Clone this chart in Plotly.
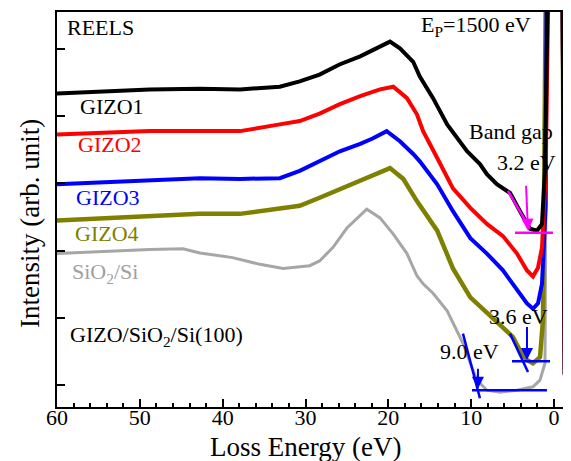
import plotly.graph_objects as go

# ---------------- data ----------------
# Loss energy (eV) and intensity (arb. unit, offset stacked)
gizo1_E = [60.0, 54.8, 48.8, 42.75, 37.9, 33.1, 30.7, 28.3, 25.9, 23.4, 21.4, 19.8, 18.6, 17.0,
           16.2, 14.6, 12.9, 11.35, 10.5, 8.94, 8.1, 6.9, 5.3, 4.1, 2.9, 2.05, 1.45, 1.1, 0.8,
           0.0, -0.9, -1.1, -1.3, -1.6]
gizo1_I = [4.66, 4.69, 4.72, 4.73, 4.72, 4.76, 4.84, 4.94, 5.09, 5.21, 5.33, 5.43, 5.33, 5.13,
           4.91, 4.59, 4.20, 3.95, 3.80, 3.61, 3.46, 3.31, 3.18, 2.91, 2.65, 2.62, 2.72, 3.5, 9.0,
           12.0, 9.0, 4.0, 0.5, 0.25]

gizo2_E = [60.0, 48.8, 42.75, 37.9, 33.1, 30.7, 28.3, 25.85, 23.4, 21.0, 19.4, 17.75, 16.55,
           15.8, 14.1, 12.2, 10.1, 8.1, 6.16, 4.47, 3.26, 2.54, 1.93, 1.45, 1.0, 0.8,
           0.0, -0.9, -1.1, -1.3, -1.6]
gizo2_I = [4.05, 4.10, 4.10, 4.10, 4.20, 4.25, 4.36, 4.50, 4.62, 4.72, 4.76, 4.59, 4.35,
           4.10, 3.70, 3.25, 2.96, 2.72, 2.54, 2.28, 2.03, 1.94, 2.07, 2.37, 3.5, 9.0,
           12.0, 9.0, 4.0, 0.5, 0.25]

gizo3_E = [60.0, 48.8, 42.75, 37.9, 33.1, 30.7, 28.3, 25.85, 23.4, 21.9, 20.2, 18.6, 17.0,
           16.2, 14.1, 12.2, 10.1, 8.1, 6.16, 4.47, 3.26, 2.54, 1.93, 1.45, 1.0, 0.8,
           0.0, -0.9, -1.1, -1.3, -1.6]
gizo3_I = [3.31, 3.36, 3.40, 3.39, 3.40, 3.51, 3.65, 3.80, 3.91, 3.99, 4.10, 3.95, 3.76,
           3.65, 3.31, 2.91, 2.51, 2.28, 2.03, 1.73, 1.54, 1.46, 1.54, 1.83, 3.0, 9.0,
           12.0, 9.0, 4.0, 0.5, 0.25]

gizo4_E = [60.0, 48.8, 42.75, 37.9, 33.1, 30.7, 28.3, 25.85, 23.4, 21.0, 19.8, 18.2, 16.55,
           14.1, 12.2, 10.1, 8.1, 6.16, 4.95, 4.11, 3.26, 2.54, 1.69, 1.33, 0.8,
           0.0, -0.9, -1.1, -1.3, -1.6]
gizo4_I = [2.77, 2.84, 2.87, 2.87, 2.94, 2.99, 3.11, 3.24, 3.36, 3.48, 3.55, 3.39, 3.06,
           2.62, 2.06, 1.63, 1.39, 1.18, 1.04, 0.84, 0.70, 0.65, 0.74, 1.29, 9.0,
           12.0, 9.0, 4.0, 0.5, 0.25]

sio2_E = [60.0, 54.8, 48.8, 44.8, 42.75, 38.8, 35.5, 32.7, 30.7, 29.5, 28.3, 26.7, 25.0, 23.4,
          22.6, 21.0, 19.4, 17.75, 16.55, 15.8, 14.6, 12.9, 11.7, 11.0, 10.1, 9.3, 8.1, 6.5,
          4.47, 2.54, 1.69, 1.09, 0.72, 0.0, -1.0, -1.2, -1.35, -1.6]
sio2_I = [2.28, 2.31, 2.34, 2.35, 2.29, 2.22, 2.12, 2.06, 2.09, 2.10, 2.17, 2.37, 2.66, 2.84,
          2.94, 2.81, 2.57, 2.28, 1.95, 1.83, 1.69, 1.43, 1.14, 0.95, 0.65, 0.40, 0.25, 0.22,
          0.25, 0.30, 0.40, 0.65, 9.0, 12.0, 9.0, 3.0, 0.21, 0.2]

# band-gap construction lines: [start, end]
fit1_E = [5.56, 2.90]
fit1_I = [3.21, 2.65]
base1_E = [4.71, 0.12]
base1_I = [2.59, 2.59]
fit2_E = [5.31, 3.14]
fit2_I = [1.09, 0.52]
base2_E = [5.07, 0.48]
base2_I = [0.68, 0.68]
fit3_E = [10.99, 8.94]
fit3_I = [1.09, 0.13]
base3_E = [9.90, 0.85]
base3_I = [0.25, 0.25]
# arrows: (tail E, tail I, tip E, tip I)
arrow1 = (3.38, 3.31, 3.14, 2.62)
arrow2 = (3.26, 1.21, 3.26, 0.70)
arrow3 = (9.18, 0.59, 9.18, 0.27)

x_ticks = [60, 50, 40, 30, 20, 10, 0]

FONT = "Liberation Serif, DejaVu Serif, Noto Serif, serif"

fig = go.Figure()

series = [
    (sio2_E, sio2_I, "#a6a6a6", 3),
    (gizo4_E, gizo4_I, "#808000", 4.5),
    (gizo3_E, gizo3_I, "#0000ff", 4),
    (gizo2_E, gizo2_I, "#ff0000", 4),
    (gizo1_E, gizo1_I, "#000000", 4),
]
for E, I, c, w in series:
    fig.add_trace(go.Scatter(x=E, y=I, mode="lines", line=dict(color=c, width=w),
                             showlegend=False, hoverinfo="skip"))

for E, I, c in [(fit1_E, fit1_I, "#ff00ff"), (base1_E, base1_I, "#ff00ff"),
                (fit2_E, fit2_I, "#0000ff"), (base2_E, base2_I, "#0000ff"),
                (fit3_E, fit3_I, "#0000ff"), (base3_E, base3_I, "#0000ff")]:
    fig.add_trace(go.Scatter(x=E, y=I, mode="lines", line=dict(color=c, width=2.5),
                             showlegend=False, hoverinfo="skip"))

for (ax_, ay_, x_, y_), c in [(arrow1, "#ff00ff"), (arrow2, "#0000ff"), (arrow3, "#0000ff")]:
    fig.add_annotation(x=x_, y=y_, ax=ax_, ay=ay_, xref="x", yref="y", axref="x", ayref="y",
                       text="", showarrow=True, arrowhead=2, arrowsize=1.2, arrowwidth=2,
                       arrowcolor=c)

labels = [
    ("REELS", 59.06, 5.64, "#000000"),
    ("E<sub>P</sub>=1500 eV", 16.3, 5.66, "#000000"),
    ("GIZO1", 57.5, 4.46, "#000000"),
    ("GIZO2", 57.7, 3.90, "#ff0000"),
    ("GIZO3", 58.0, 3.12, "#0000ff"),
    ("GIZO4", 58.1, 2.58, "#808000"),
    ("SiO<sub>2</sub>/Si", 58.45, 1.99, "#a0a0a0"),
    ("GIZO/SiO<sub>2</sub>/Si(100)", 58.7, 1.05, "#000000"),
    ("Band gap", 10.5, 4.09, "#000000"),
    ("3.2 eV", 7.13, 3.63, "#000000"),
    ("3.6 eV", 8.09, 1.34, "#000000"),
    ("9.0 eV", 14.0, 0.82, "#000000"),
]
for t, x_, y_, c in labels:
    fig.add_annotation(x=x_, y=y_, xref="x", yref="y", text=t, showarrow=False,
                       xanchor="left", yanchor="middle",
                       font=dict(family=FONT, size=22, color=c))

# axis titles
fig.add_annotation(x=0.488, y=-0.1, xref="paper", yref="paper", text="Loss Energy (eV)",
                   showarrow=False, xanchor="center", yanchor="middle",
                   font=dict(family=FONT, size=27, color="#000000"))
fig.add_annotation(x=-0.053, y=0.466, xref="paper", yref="paper", text="Intensity (arb. unit)",
                   showarrow=False, xanchor="center", yanchor="middle", textangle=-90,
                   font=dict(family=FONT, size=27, color="#000000"))

fig.update_xaxes(range=[60, -1.57], tickvals=x_ticks, ticktext=[str(v) for v in x_ticks],
                 ticks="inside", ticklen=8, tickwidth=2, tickcolor="#000000",
                 ticklabelstandoff=-10,
                 minor=dict(dtick=2, ticks="inside", ticklen=4, tickwidth=1.5, tickcolor="#000000"),
                 showline=True, linewidth=2, linecolor="#000000", mirror=True,
                 showgrid=False, zeroline=False,
                 tickfont=dict(family=FONT, size=22, color="#000000"))
fig.update_yaxes(range=[0, 5.87], tick0=0.325, dtick=1, ticks="inside", ticklen=8, tickwidth=2,
                 tickcolor="#000000", showticklabels=False,
                 showline=True, linewidth=2, linecolor="#000000", mirror=True,
                 showgrid=False, zeroline=False)

# the page body has an 8 px default margin, so the figure is drawn 8 px smaller
fig.update_layout(width=563, height=453, margin=dict(l=49, r=4, t=2, b=54),
                  plot_bgcolor="#ffffff", paper_bgcolor="#ffffff", showlegend=False,
                  font=dict(family=FONT))

fig.write_html("out.html")
